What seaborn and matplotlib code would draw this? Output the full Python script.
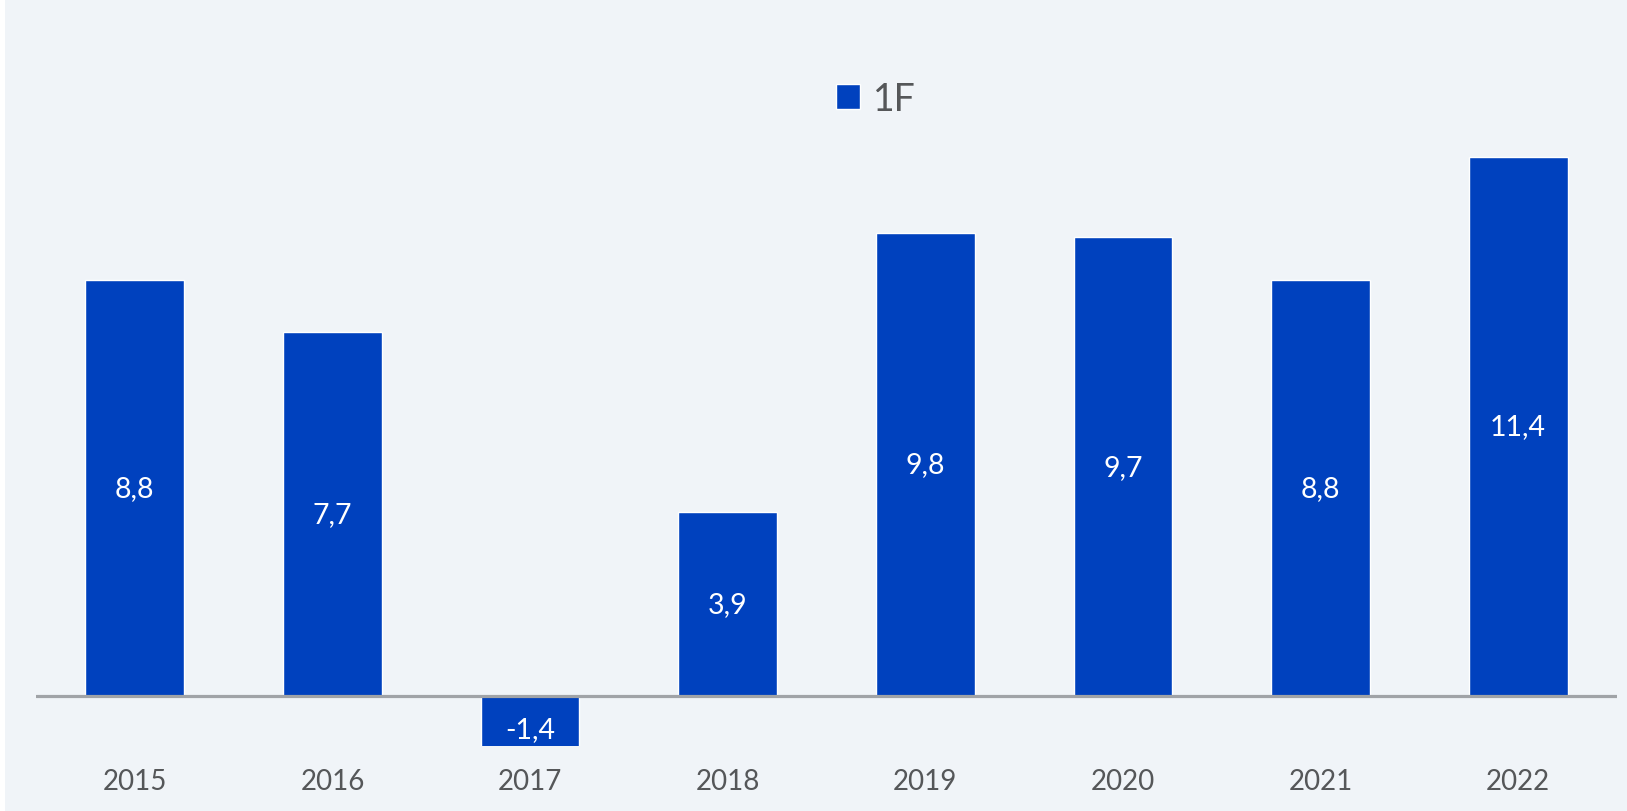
import pandas as pd
import numpy as np
import matplotlib.pyplot as plt
import seaborn as sns
from matplotlib.patches import Rectangle

# Données
years = ['2015', '2016', '2017', '2018', '2019', '2020', '2021', '2022']
values = [8.8, 7.7, -1.4, 3.9, 9.8, 9.7, 8.8, 11.4]
series_name = '1F'

bar_color = '#0041BE'
bg_color = '#F0F4F8'
text_gray = '#555759'

df = pd.DataFrame({'year': years, 'value': values, 'serie': series_name})

sns.set_theme(style='white')
plt.rcParams['font.family'] = ['Lato', 'DejaVu Sans']

W, H = 1627, 812
fig = plt.figure(figsize=(W / 100, H / 100), dpi=100)
fig.patch.set_facecolor('white')
fig.patches.append(Rectangle((5 / W, 0), 1 - 5 / W, 1, transform=fig.transFigure,
                             facecolor=bg_color, edgecolor='none', zorder=-10))

ax = fig.add_axes([36 / W, 65 / H, (1617 - 36) / W, 641 / H])
ax.set_facecolor('none')

sns.barplot(data=df, x='year', y='value', hue='serie', palette=[bar_color],
            width=0.5, dodge=False, ax=ax, saturation=1)

ylow = -1.06
ax.set_ylim(ylow, 12.5)
ax.set_xlim(-0.5, len(years) - 0.5)
ax.axhline(0, color='#A0A3A7', lw=2.3, zorder=5)

for s in ax.spines.values():
    s.set_visible(False)
ax.set_yticks([])
ax.set_xlabel('')
ax.set_ylabel('')
ax.tick_params(axis='x', length=0, pad=16, labelsize=20, labelcolor=text_gray)

# Étiquettes des valeurs
for i, v in enumerate(values):
    y = v / 2 if v >= 0 else max(v / 2, ylow * 0.7)
    ax.text(i, y, f'{v:.1f}'.replace('.', ','), ha='center', va='center',
            color='white', fontsize=20.5, zorder=6)

ax.legend(loc='center', bbox_to_anchor=(876 / W, 1 - 100 / H),
          bbox_transform=fig.transFigure, frameon=False, fontsize=27,
          handlelength=0.64, handleheight=0.64, handletextpad=0.35,
          borderpad=0, labelcolor=text_gray)

fig.savefig('out.png', dpi=100)
